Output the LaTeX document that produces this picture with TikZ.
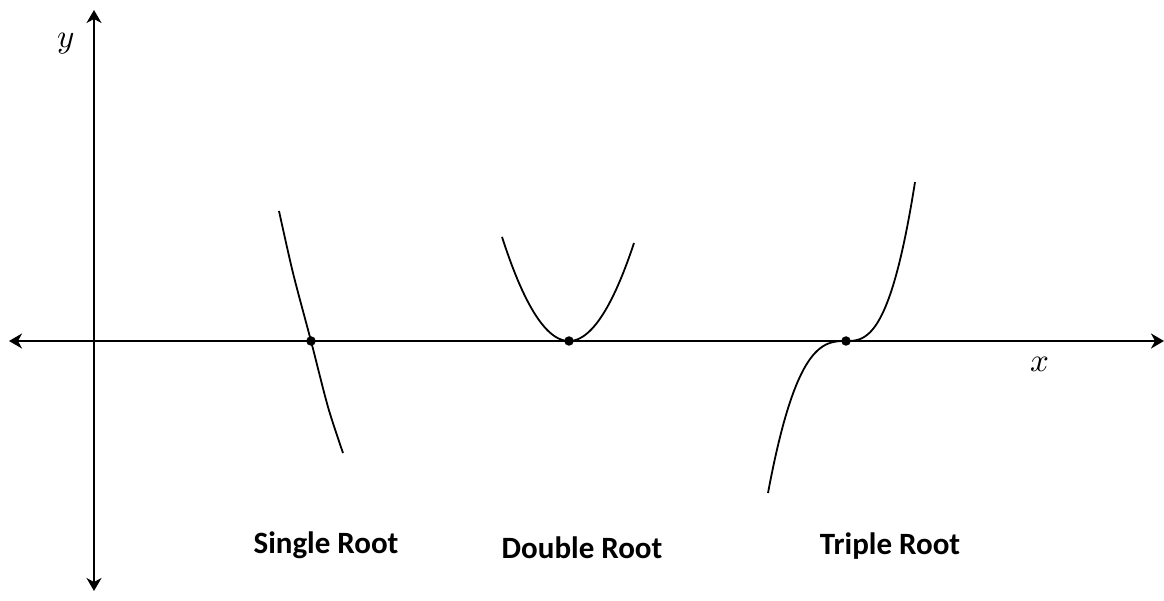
\documentclass[tikz,border=0pt]{standalone}
\usepackage{fontspec}
\usepackage{unicode-math}
\setmathfont{Latin Modern Math}
\setsansfont{Carlito}
\usetikzlibrary{arrows.meta}
\begin{document}
\begin{tikzpicture}[x=1pt,y=-1pt,
  axis/.style={line width=1.8pt,{Stealth[length=13pt,width=15pt,inset=4pt]}-{Stealth[length=13pt,width=15pt,inset=4pt]}},
  curve/.style={line width=1.8pt},
  rootdot/.style={circle,fill=black,inner sep=0pt,minimum size=9.5pt},
  lbl/.style={font=\sffamily\bfseries\fontsize{31}{36}\selectfont},
  axlbl/.style={font=\fontsize{33}{36}\selectfont}]
\useasboundingbox (0,0) rectangle (1164,601);
\coordinate (xl) at (9,341);
\coordinate (xr) at (1164,341);
\coordinate (yt) at (94,10);
\coordinate (yb) at (94,591);
\draw[axis] (xl) -- (xr);
\draw[axis] (yb) -- (yt);
\node[axlbl] (ylab) at (66,44) {$y$};
\node[axlbl] (xlab) at (1040,364) {$x$};
% single root
\draw[curve] plot[smooth] coordinates {(279,211) (293,273) (311,341) (328,407) (343,453)};
% double root
\draw[curve] plot[domain=502:634,samples=60] (\x,{341-0.0232*(\x-569)^2});
% triple root
\draw[curve] plot[domain=768:846,samples=60] (\x,{341+152*((846-\x)/78)^2.75})
  -- plot[domain=846:915,samples=60] (\x,{341-159*((\x-846)/69)^2.75});
\node[rootdot] (r1) at (311,341) {};
\node[rootdot] (r2) at (569,341) {};
\node[rootdot] (r3) at (846,341) {};
\node[lbl] (l1) at (326,545) {Single Root};
\node[lbl] (l2) at (582,548) {Double Root};
\node[lbl] (l3) at (890,546) {Triple Root};
\end{tikzpicture}
\end{document}
